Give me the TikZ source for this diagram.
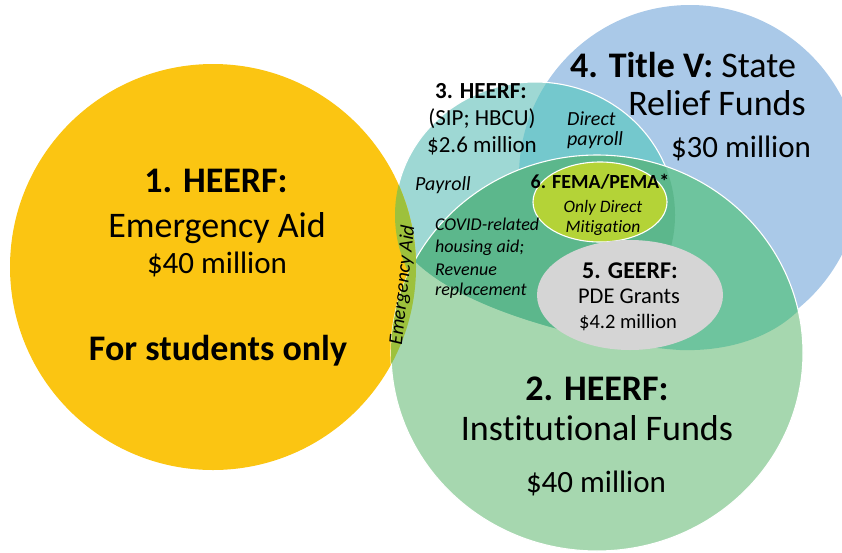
\documentclass[tikz,border=0pt]{standalone}
\usepackage{fontspec}
\setmainfont{Carlito}[Ligatures=CommonOff]

\definecolor{gold}{RGB}{251,197,18}
\definecolor{lens}{RGB}{157,193,60}
\definecolor{tealL}{RGB}{158,216,212}
\definecolor{tealD}{RGB}{116,200,205}
\definecolor{blueC}{RGB}{170,201,232}
\definecolor{greenL}{RGB}{166,215,175}
\definecolor{greenM}{RGB}{110,196,158}
\definecolor{greenD}{RGB}{92,183,140}
\definecolor{fema}{RGB}{180,211,55}
\definecolor{greyE}{RGB}{213,213,213}

\newcommand{\fs}[1]{\fontsize{#1}{#1}\selectfont}

\begin{document}
\begin{tikzpicture}[x=1pt,y=-1pt,
        every node/.style={inner sep=0pt,anchor=base},
        huge/.style={font=\fs{36}},
        large/.style={font=\fs{31}},
        mid/.style={font=\fs{23}},
        small/.style={font=\fs{20}\itshape},
        tiny/.style={font=\fs{18}\itshape,anchor=base west},
        edge/.style={white,line width=1.1pt}]

  \useasboundingbox (0,0) rectangle (842,552);

  % circles
  \fill[blueC] (690,176) circle [radius=171];
  \fill[tealL] (535,215) ellipse [x radius=140,y radius=133];
  \begin{scope}
    \clip (535,215) ellipse [x radius=140,y radius=133];
    \fill[tealD] (690,176) circle [radius=171];
  \end{scope}
  \draw[edge] (535,215) ellipse [x radius=140,y radius=133];

  \fill[gold] (213,267) circle [radius=203];

  \fill[greenL] (597,353) ellipse [x radius=206,y radius=198];
  \begin{scope}
    \clip (597,353) ellipse [x radius=206,y radius=198];
    \fill[greenM] (380,120) -- (380,250) -- (405,250)
        .. controls (450,310) and (600,345) .. (680,350)
        .. controls (740,352) and (790,330) .. (815,290)
        -- (830,290) -- (830,120) -- cycle;
    \clip (535,215) ellipse [x radius=140,y radius=133];
    \fill[greenD] (380,120) -- (380,250) -- (405,250)
        .. controls (450,310) and (600,345) .. (680,350)
        .. controls (740,352) and (790,330) .. (815,290)
        -- (830,290) -- (830,120) -- cycle;
  \end{scope}
  \draw[edge] (597,353) ellipse [x radius=206,y radius=198];

  \begin{scope}
    \clip (213,267) circle [radius=203];
    \fill[lens] (535,215) ellipse [x radius=140,y radius=133]
                (597,353) ellipse [x radius=206,y radius=198];
  \end{scope}

  \filldraw[fema,draw=white,line width=1.1pt] (600,202) ellipse [x radius=67,y radius=40];
  \fill[greyE] (630,295) ellipse [x radius=93,y radius=55];

  % 1
  \node[huge] (h1) at (216,192) {\bfseries 1. HEERF:};
  \node[huge] (h1b) at (217,237) {Emergency Aid};
  \node[large] (h1c) at (217,273) {\$40 million};
  \node[huge] (h1d) at (218,360) {\bfseries For students only};
  \node[small,anchor=center,rotate=84] (ea) at (403,285) {Emergency Aid};

  % 2
  \node[huge] (h2) at (597,400) {\bfseries 2. HEERF:};
  \node[huge] (h2b) at (597,440) {Institutional Funds};
  \node[large] (h2c) at (596,492) {\$40 million};

  % 3
  \node[mid] (h3) at (481,98) {\bfseries 3. HEERF:};
  \node[mid] (h3b) at (482,125) {(SIP; HBCU)};
  \node[mid] (h3c) at (482,152) {\$2.6 million};
  \node[small,anchor=base west] (dp) at (567,125) {Direct};
  \node[small,anchor=base west] (dpb) at (567,145) {payroll};
  \node[small,anchor=base west] (pay) at (415,190) {Payroll};
  \node[tiny] (cov) at (435,230) {COVID-related};
  \node[tiny] (covb) at (435,252) {housing aid;};
  \node[tiny] (covc) at (435,275) {Revenue};
  \node[tiny] (covd) at (435,295) {replacement};

  % 4
  \node[huge] (h4) at (683,77) {\bfseries 4. Title V:\mdseries{} State};
  \node[huge] (h4b) at (717,115) {Relief Funds};
  \node[large] (h4c) at (741,157) {\$30 million};

  % 6
  \node[font=\fs{20}\bfseries] (h6) at (600,188) {6. FEMA/PEMA*};
  \node[font=\fs{17.5}\itshape] (h6b) at (603,212) {Only Direct};
  \node[font=\fs{17.5}\itshape] (h6c) at (603,232) {Mitigation};

  % 5
  \node[font=\fs{24}\bfseries] (h5) at (630,278) {5. GEERF:};
  \node[font=\fs{22.5}] (h5b) at (629,303) {PDE Grants};
  \node[font=\fs{20.5}] (h5c) at (628,328) {\$4.2 million};

\end{tikzpicture}
\end{document}
